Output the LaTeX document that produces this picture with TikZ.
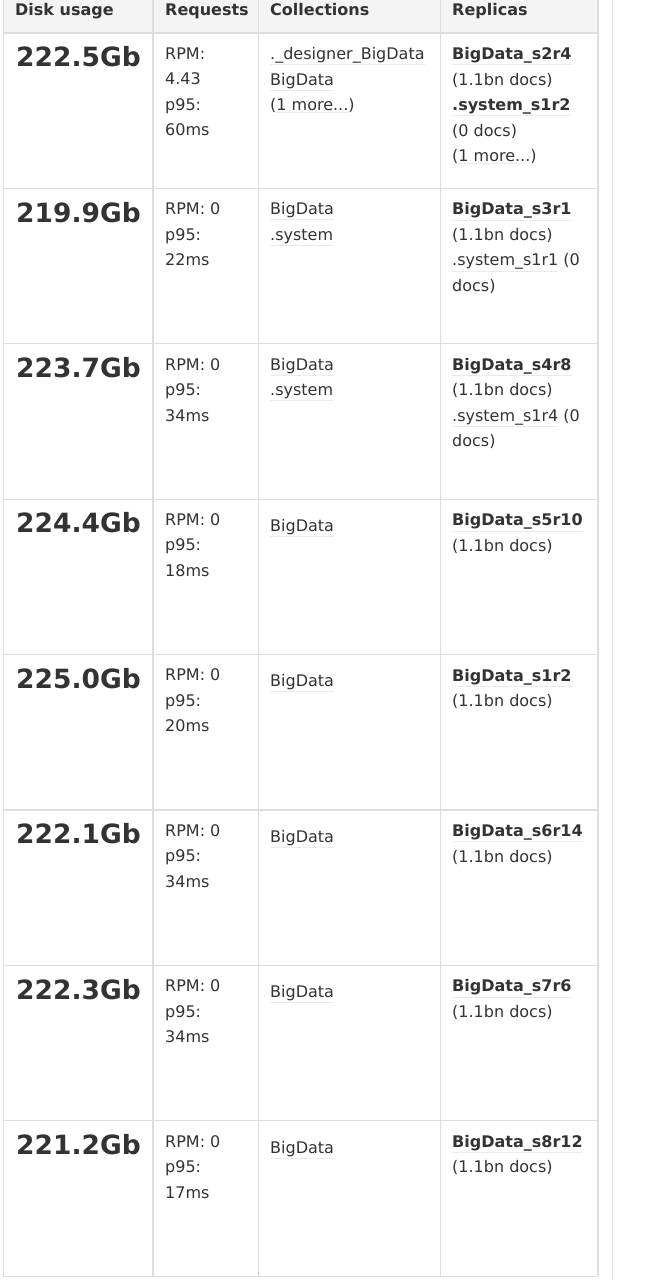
\documentclass[tikz,border=0pt]{standalone}
\usepackage{fontspec}
\setmainfont{DejaVu Sans}
\usepackage{xcolor}
\usepackage{tikz}
\definecolor{txt}{HTML}{333333}
\definecolor{rule}{HTML}{DDDDDD}
\definecolor{headbg}{HTML}{F4F4F4}
\definecolor{ul}{HTML}{E6EDF1}
\newcommand{\lnk}[1]{{\color{ul}\underline{\color{txt}#1}}}
\tikzstyle{every node}=[inner sep=0pt,text=txt,anchor=base west]
\tikzstyle{head}=[font=\fontsize{16}{19}\selectfont\bfseries]
\tikzstyle{big}=[font=\fontsize{26.5}{30}\selectfont\bfseries]
\tikzstyle{cell}=[font=\fontsize{16}{25.5}\selectfont,align=left,anchor=north west,yshift=17.85pt,execute at begin node=\strut]
\tikzstyle{grid}=[draw=rule,line width=1.2pt]

\begin{document}
\begin{tikzpicture}[x=1pt,y=-1pt]
		\fill[white] (0,0) rectangle (652,1280);
		\useasboundingbox (0,0) rectangle (652,1280);
		\fill[headbg] (3.3,0) rectangle (598,33);
		% grid
		\draw[grid] (3.3,0) -- (3.3,1276.2);
		\draw[grid] (153,0) -- (153,1276.2);
		\draw[grid] (258.5,0) -- (258.5,1276.2);
		\draw[grid] (440.4,0) -- (440.4,1276.2);
		\draw[grid] (598,0) -- (598,1276.2);
		\draw[grid] (612.5,0) -- (612.5,1280);
		\draw[grid] (3.3,33) -- (598,33);
		\draw[grid] (3.3,188.4) -- (598,188.4);
		\draw[grid] (3.3,343.8) -- (598,343.8);
		\draw[grid] (3.3,499.2) -- (598,499.2);
		\draw[grid] (3.3,654.6) -- (598,654.6);
		\draw[grid] (3.3,810) -- (598,810);
		\draw[grid] (3.3,965.4) -- (598,965.4);
		\draw[grid] (3.3,1120.8) -- (598,1120.8);
		\draw[grid] (3.3,1276.2) -- (598,1276.2);
		% header
		\node[head] (hdisk) at (15,15) {Disk usage};
		\node[head] (hreq) at (165,15) {Requests};
		\node[head] (hcoll) at (270,15) {Collections};
		\node[head] (hrepl) at (452,15) {Replicas};
		% row 1
		\node[big] (disk1) at (16,66.7) {222.5Gb};
		\node[cell] (req1) at (165,65) {RPM:\\4.43\\p95:\\60ms};
		\node[cell] (coll1) at (270,65) {\lnk{.\_designer\_BigData}\\\lnk{BigData}\\(\lnk{1 more...})};
		\node[cell] (repl1) at (452,65) {\lnk{\textbf{BigData\_s2r4}}\\(1.1bn docs)\\\lnk{\textbf{.system\_s1r2}}\\(0 docs)\\(\lnk{1 more...})};
		% row 2
		\node[big] (disk2) at (16,222.1) {219.9Gb};
		\node[cell] (req2) at (165,220.4) {RPM: 0\\p95:\\22ms};
		\node[cell] (coll2) at (270,220.4) {\lnk{BigData}\\\lnk{.system}};
		\node[cell] (repl2) at (452,220.4) {\lnk{\textbf{BigData\_s3r1}}\\(1.1bn docs)\\\lnk{.system\_s1r1} (0\\docs)};
		% row 3
		\node[big] (disk3) at (16,377.5) {223.7Gb};
		\node[cell] (req3) at (165,375.8) {RPM: 0\\p95:\\34ms};
		\node[cell] (coll3) at (270,375.8) {\lnk{BigData}\\\lnk{.system}};
		\node[cell] (repl3) at (452,375.8) {\lnk{\textbf{BigData\_s4r8}}\\(1.1bn docs)\\\lnk{.system\_s1r4} (0\\docs)};
		% row 4
		\node[big] (disk4) at (16,532.9) {224.4Gb};
		\node[cell] (req4) at (165,531.2) {RPM: 0\\p95:\\18ms};
		\node[cell] (coll4) at (270,531.2) {\lnk{BigData}};
		\node[cell] (repl4) at (452,531.2) {\lnk{\textbf{BigData\_s5r10}}\\(1.1bn docs)};
		% row 5
		\node[big] (disk5) at (16,688.3) {225.0Gb};
		\node[cell] (req5) at (165,686.6) {RPM: 0\\p95:\\20ms};
		\node[cell] (coll5) at (270,686.6) {\lnk{BigData}};
		\node[cell] (repl5) at (452,686.6) {\lnk{\textbf{BigData\_s1r2}}\\(1.1bn docs)};
		% row 6
		\node[big] (disk6) at (16,843.7) {222.1Gb};
		\node[cell] (req6) at (165,842) {RPM: 0\\p95:\\34ms};
		\node[cell] (coll6) at (270,842) {\lnk{BigData}};
		\node[cell] (repl6) at (452,842) {\lnk{\textbf{BigData\_s6r14}}\\(1.1bn docs)};
		% row 7
		\node[big] (disk7) at (16,999.1) {222.3Gb};
		\node[cell] (req7) at (165,997.4) {RPM: 0\\p95:\\34ms};
		\node[cell] (coll7) at (270,997.4) {\lnk{BigData}};
		\node[cell] (repl7) at (452,997.4) {\lnk{\textbf{BigData\_s7r6}}\\(1.1bn docs)};
		% row 8
		\node[big] (disk8) at (16,1154.5) {221.2Gb};
		\node[cell] (req8) at (165,1152.8) {RPM: 0\\p95:\\17ms};
		\node[cell] (coll8) at (270,1152.8) {\lnk{BigData}};
		\node[cell] (repl8) at (452,1152.8) {\lnk{\textbf{BigData\_s8r12}}\\(1.1bn docs)};
\end{tikzpicture}
\end{document}
